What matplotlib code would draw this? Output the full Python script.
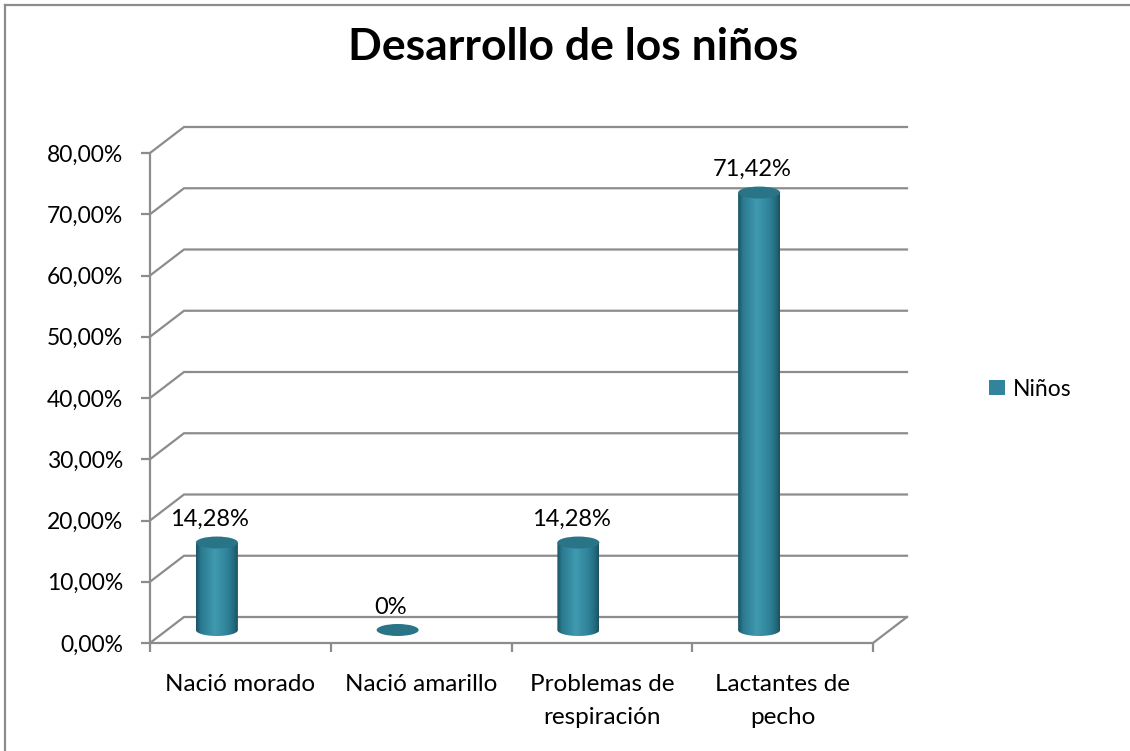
import numpy as np
import matplotlib
matplotlib.use('Agg')
import matplotlib.pyplot as plt
from matplotlib.patches import Polygon, Ellipse, Patch
from matplotlib.colors import LinearSegmentedColormap
from matplotlib.lines import Line2D
from matplotlib.ticker import FuncFormatter, FixedLocator

plt.rcParams['font.family'] = ['Lato', 'DejaVu Sans']

title = 'Desarrollo de los niños'
categories = ['Nació morado', 'Nació amarillo', 'Problemas de\nrespiración', 'Lactantes de\npecho']
values = [14.28, 0.0, 14.28, 71.42]
value_labels = ['14,28%', '0%', '14,28%', '71,42%']
series_name = 'Niños'
y_ticks = [0, 10, 20, 30, 40, 50, 60, 70, 80]

W, H = 1130, 751
fig = plt.figure(figsize=(W / 100, H / 100), dpi=100)
ax = fig.add_axes([150 / W, (H - 643) / H, 723 / W, 490 / H])
ax.set_xlim(0, len(categories))
ax.set_ylim(0, 80)

grid_c = '#8c8c8c'
lw = 1.6
# depth offset of the 3d box, in data units
dx, dy = 34 / 180.75, 26 / 6.125

for v in y_ticks:
    ax.plot([0, dx, len(categories) + dx], [v, v + dy, v + dy], color=grid_c, lw=lw,
            clip_on=False, zorder=1, solid_joinstyle='miter')
ax.plot([len(categories), len(categories) + dx], [0, dy], color=grid_c, lw=lw, clip_on=False, zorder=1)

for s in ['top', 'right']:
    ax.spines[s].set_visible(False)
for s in ['left', 'bottom']:
    ax.spines[s].set_color(grid_c)
    ax.spines[s].set_linewidth(lw)
ax.set_facecolor('none')

ax.yaxis.set_major_locator(FixedLocator(y_ticks))
ax.yaxis.set_major_formatter(FuncFormatter(lambda v, p: f'{v:.2f}%'.replace('.', ',')))
ax.tick_params(axis='y', length=6.5, width=lw, color=grid_c, pad=13, labelsize=16.5)
ax.xaxis.set_major_locator(FixedLocator(range(len(categories) + 1)))
ax.xaxis.set_major_formatter(FuncFormatter(lambda v, p: ''))
ax.xaxis.set_minor_locator(FixedLocator([i + 0.5 for i in range(len(categories))]))
ax.set_xticklabels(categories, minor=True)
ax.tick_params(axis='x', which='major', length=6.5, width=lw, color=grid_c)
ax.tick_params(axis='x', which='minor', length=0, pad=22, labelsize=17.5)
for t in ax.get_xticklabels(minor=True):
    t.set_linespacing(1.75)

# cylinders
grad = LinearSegmentedColormap.from_list('cyl', [
    (0.0, '#1a5263'), (0.12, '#2a7a90'), (0.45, '#3f9ab0'),
    (0.75, '#2f8399'), (0.92, '#22677a'), (1.0, '#1a4f5e')])
gimg = np.linspace(0, 1, 256).reshape(1, -1)
hw = 21 / 180.75
eh = 6 / 6.125
base = dy / 2
shift = -0.13
for i, (v, lab) in enumerate(zip(values, value_labels)):
    xc = i + 0.5 + shift
    top = base + v
    if v > 0:
        t = np.linspace(0, -np.pi, 60)
        pts = [(xc - hw, top), (xc + hw, top)] + list(zip(xc + hw * np.cos(t), base + eh * np.sin(t)))
        body = Polygon(pts, closed=True, facecolor='none', edgecolor='none', zorder=3)
        ax.add_patch(body)
        im = ax.imshow(gimg, cmap=grad, aspect='auto', extent=(xc - hw, xc + hw, base - eh, top),
                       zorder=3, interpolation='bilinear')
        im.set_clip_path(body)
    ax.add_patch(Ellipse((xc, top), 2 * hw, 2 * eh, facecolor='#2a7488', edgecolor='none', zorder=4))
    ax.annotate(lab, (xc, top), xytext=(-7, 23), textcoords='offset pixels',
                ha='center', va='center', fontsize=17, color='black', zorder=5)

ax.set_xlim(0, len(categories))
ax.set_ylim(0, 80)

fig.text(573 / W, 1 - 60 / H, title, ha='center', va='baseline', fontsize=32, fontweight='bold')

fig.legend(handles=[Patch(facecolor='#31849b', edgecolor='none')], labels=[series_name],
           loc='center left', bbox_to_anchor=(989 / W, 1 - 389 / H), frameon=False,
           fontsize=16.5, handlelength=0.68, handleheight=0.68, handletextpad=0.35,
           borderpad=0, borderaxespad=0)

# chart border (left and top visible)
fig.add_artist(Line2D([5 / W, 5 / W], [0, 1 - 5 / H], color='#8c8c8c', lw=1.6, transform=fig.transFigure))
fig.add_artist(Line2D([5 / W, 1], [1 - 5 / H, 1 - 5 / H], color='#8c8c8c', lw=1.6, transform=fig.transFigure))

fig.savefig('out.png', dpi=100)
